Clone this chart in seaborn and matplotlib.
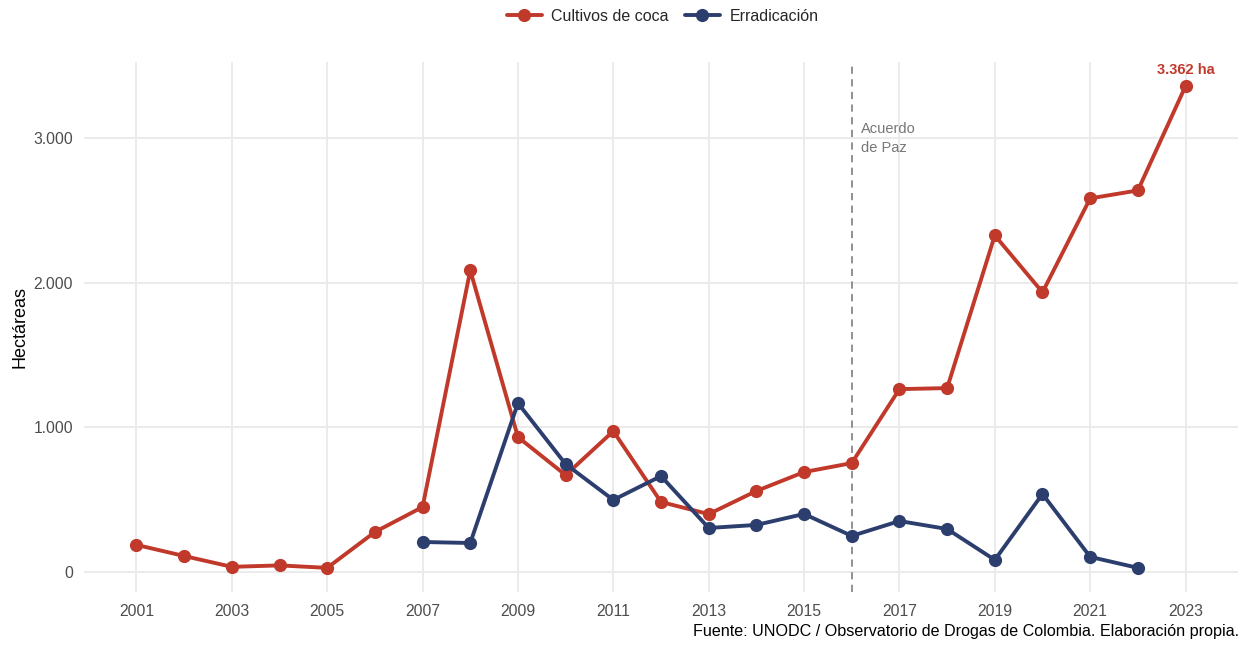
import numpy as np
import pandas as pd
import seaborn as sns
import matplotlib
matplotlib.use("Agg")
import matplotlib.pyplot as plt
from matplotlib.ticker import FuncFormatter

# data
coca_years = list(range(2001, 2024))
coca_ha = [187, 110, 35, 45, 28, 276, 449, 2087, 933, 670, 974, 484, 400, 560,
           691, 753, 1265, 1272, 2329, 1935, 2585, 2640, 3362]
errad_years = list(range(2007, 2023))
errad_ha = [207, 200, 1168, 746, 498, 663, 304, 325, 401, 249, 352, 297, 83, 539, 104, 28]

series_names = ["Cultivos de coca", "Erradicación"]
colors = ["#C0392B", "#2C3E6E"]

df = pd.concat([
    pd.DataFrame({"Año": coca_years, "Hectáreas": coca_ha, "Serie": series_names[0]}),
    pd.DataFrame({"Año": errad_years, "Hectáreas": errad_ha, "Serie": series_names[1]}),
])

sns.set_theme(style="whitegrid")
plt.rcParams["font.family"] = ["Liberation Sans", "DejaVu Sans"]

fig = plt.figure(figsize=(12.5, 6.45), dpi=100)
ax = fig.add_axes([0.0672, 0.0822, 0.9232, 0.8217])

sns.lineplot(data=df, x="Año", y="Hectáreas", hue="Serie", hue_order=series_names,
             palette=colors, marker="o", markersize=9.5, markeredgewidth=0,
             linewidth=2.8, ax=ax)

# peace agreement marker
ax.axvline(2016, color="#888888", linestyle=(0, (4, 3)), linewidth=1.3, zorder=1)
ax.text(2016.2, 3000, "Acuerdo\nde Paz", color="#777777", fontsize=10.5,
        va="center", ha="left", linespacing=1.45)

# last value label
ax.text(coca_years[-1], coca_ha[-1] + 65, "3.362 ha", color=colors[0],
        fontsize=10.5, fontweight="bold", ha="center", va="bottom")

ax.set_xlim(1999.9, 2024.1)
ax.set_ylim(-139, 3529)
ax.set_xticks(range(2001, 2024, 2))
ax.set_yticks([0, 1000, 2000, 3000])
ax.yaxis.set_major_formatter(FuncFormatter(lambda v, p: f"{int(v):,}".replace(",", ".")))
ax.tick_params(axis="both", labelsize=11.3, labelcolor="#4d4d4d", length=0)
ax.tick_params(axis="x", pad=9)
ax.tick_params(axis="y", pad=8)
ax.grid(color="#EBEBEB", linewidth=1.4)
for s in ax.spines.values():
    s.set_visible(False)
ax.set_xlabel("")
ax.set_ylabel("Hectáreas", fontsize=13, color="black", labelpad=3)

ax.legend(loc="center", bbox_to_anchor=(0.53, 0.975), bbox_transform=fig.transFigure,
          ncol=2, frameon=False, fontsize=11.5, handlelength=2.2,
          columnspacing=1.0, handletextpad=0.6)

fig.text(0.991, 0.0202, "Fuente: UNODC / Observatorio de Drogas de Colombia. Elaboración propia.",
         ha="right", va="center", fontsize=11.6, color="black")

fig.savefig("out.png", dpi=100)
